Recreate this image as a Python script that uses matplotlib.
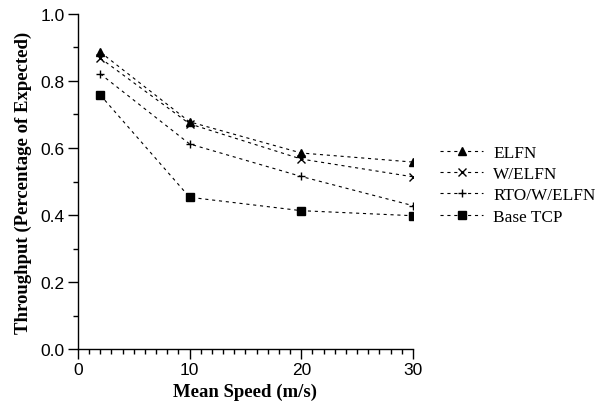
import matplotlib
matplotlib.use("Agg")
import matplotlib.pyplot as plt
from matplotlib.ticker import MultipleLocator

speeds = [2, 10, 20, 30]
elfn = [0.886, 0.678, 0.585, 0.558]
w_elfn = [0.868, 0.672, 0.567, 0.514]
rto_w_elfn = [0.821, 0.612, 0.515, 0.428]
base_tcp = [0.758, 0.453, 0.413, 0.398]

series = [
    ('ELFN', elfn, '^', 6),
    ('W/ELFN', w_elfn, 'x', 6),
    ('RTO/W/ELFN', rto_w_elfn, '+', 6),
    ('Base TCP', base_tcp, 's', 5.5),
]

fig = plt.figure(figsize=(5.95, 4.02), dpi=100)
ax = fig.add_axes([0.131, 0.129, 0.563, 0.834])

for name, vals, mk, ms in series:
    ax.plot(speeds, vals, linestyle=(0, (2.8, 3.4)), color='black', linewidth=0.8,
            marker=mk, markersize=ms, markeredgewidth=1.0, label=name)

ax.set_xlim(0, 30)
ax.set_ylim(0, 1.0)
ax.xaxis.set_major_locator(MultipleLocator(10))
ax.xaxis.set_minor_locator(MultipleLocator(1))
ax.yaxis.set_major_locator(MultipleLocator(0.2))
ax.yaxis.set_minor_locator(MultipleLocator(0.1))
ax.yaxis.set_major_formatter(plt.FormatStrFormatter('%.1f'))

for side in ('top', 'right'):
    ax.spines[side].set_visible(False)
for side in ('left', 'bottom'):
    ax.spines[side].set_linewidth(1.0)

ax.tick_params(which='major', direction='out', length=7.5, width=1.0,
               labelsize=12.5, pad=2)
ax.tick_params(which='minor', direction='out', length=3.8, width=1.0)
for lbl in ax.get_xticklabels() + ax.get_yticklabels():
    lbl.set_family('Liberation Sans')

ax.set_xlabel('Mean Speed (m/s)', family='Liberation Serif', fontweight='bold',
              fontsize=13.5, labelpad=4)
ax.set_ylabel('Throughput (Percentage of Expected)', family='Liberation Serif',
              fontweight='bold', fontsize=13.5, labelpad=6)

fig.legend(loc='upper left', bbox_to_anchor=(0.728, 0.654), frameon=False,
           prop={'family': 'Liberation Serif', 'size': 12.4},
           handlelength=2.5, handletextpad=0.58, labelspacing=0.3,
           borderaxespad=0)

fig.savefig('out.png', dpi=100)
